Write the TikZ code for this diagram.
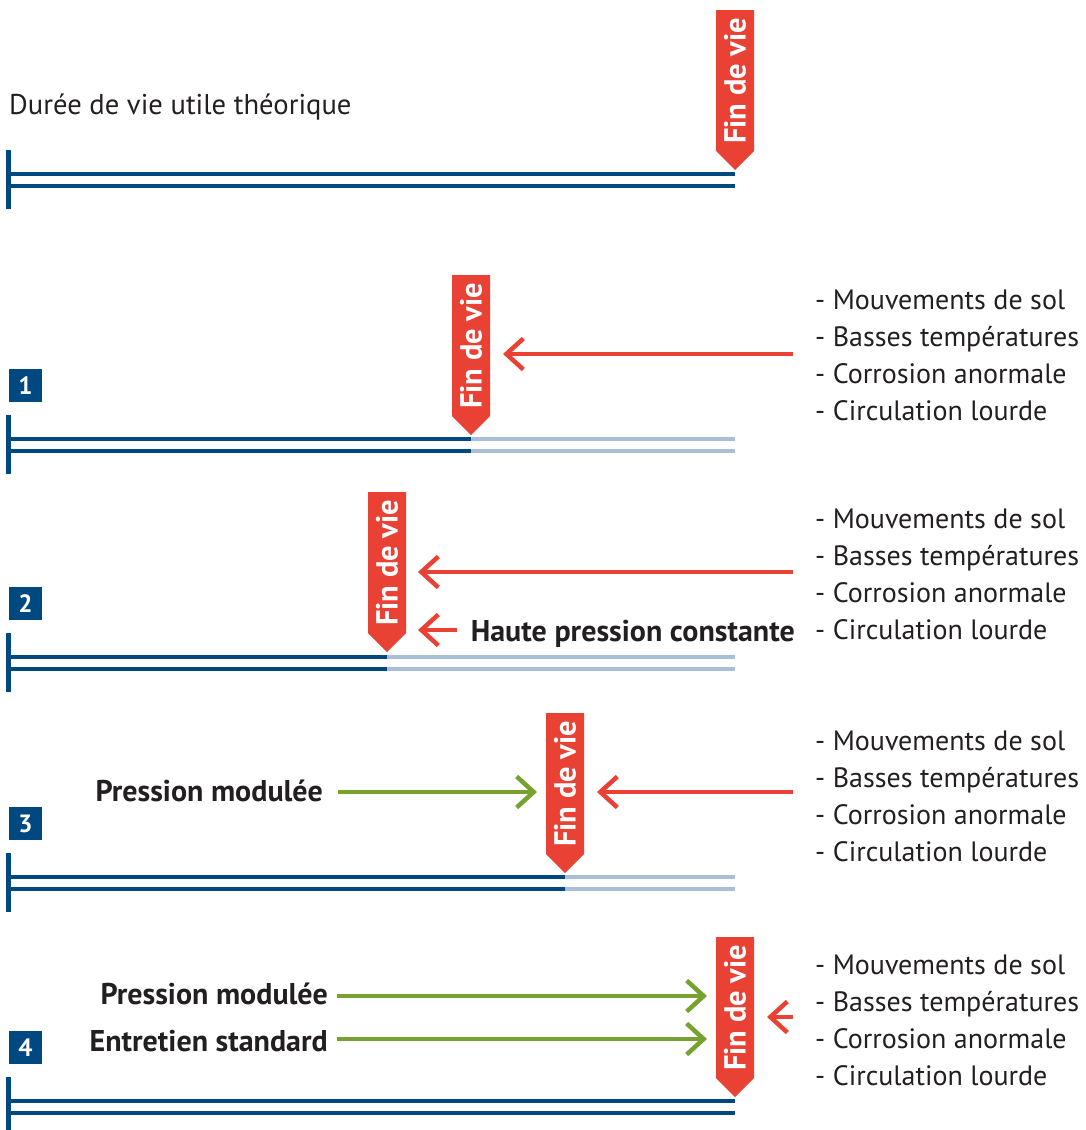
\documentclass[tikz,border=0pt]{standalone}
\usepackage{fontspec}
\setmainfont{PT Sans}
\usetikzlibrary{arrows.meta}
\definecolor{dkblue}{RGB}{0,72,128}
\definecolor{ltblue}{RGB}{170,190,218}
\definecolor{fred}{RGB}{233,65,52}
\definecolor{fgreen}{RGB}{120,162,47}
\definecolor{ftext}{RGB}{35,31,32}
\tikzset{
  txt/.style={font=\fontsize{28.6}{37}\selectfont, text=ftext, inner sep=0pt, anchor=base west},
  ltxt/.style={font=\fontsize{28}{37}\selectfont, text=ftext, inner sep=0pt, anchor=base west},
  btxt/.style={font=\fontsize{30}{37}\selectfont\bfseries, text=ftext, inner sep=0pt, anchor=base east},
  numbox/.style={fill=dkblue, text=white, font=\fontsize{25}{25}\selectfont\bfseries, minimum width=33pt, minimum height=33pt, inner sep=0pt},
  fintxt/.style={text=white, font=\fontsize{30.5}{30}\selectfont\bfseries, inner sep=0pt, rotate=90},
  dkline/.style={draw=dkblue, line width=4pt},
  ltline/.style={draw=ltblue, line width=4pt},
  bar/.style={draw=dkblue, line width=4.5pt},
  redarr/.style={draw=fred, line width=4.5pt, -{Straight Barb[length=17pt,width=31pt]}},
  greenarr/.style={draw=fgreen, line width=4.5pt, -{Straight Barb[length=17pt,width=31pt]}}
}
\newcommand\finmark[3]{%
  \fill[fred] (#2-19,#3) -- (#2+19,#3) -- (#2+19,#3+141) -- (#2,#3+160) -- (#2-19,#3+141) -- cycle;
  \node[fintxt] (#1) at (#2,#3+71) {Fin de vie};
}
\newcommand\timeline[3]{% L, split, end
  \draw[bar] (8.5,#1-24) -- (8.5,#1+35);
  \draw[ltline] (#2,#1) -- (#3,#1);
  \draw[ltline] (#2,#1+11.5) -- (#3,#1+11.5);
  \draw[dkline] (6.5,#1) -- (#2,#1);
  \draw[dkline] (6.5,#1+11.5) -- (#2,#1+11.5);
}
\newcommand\causes[2]{% name, first baseline
  \node[ltxt] (#1a) at (815,#2) {- Mouvements de sol};
  \node[ltxt] (#1b) at (815,#2+37) {- Basses températures};
  \node[ltxt] (#1c) at (815,#2+74) {- Corrosion anormale};
  \node[ltxt] (#1d) at (815,#2+111) {- Circulation lourde};
}
\begin{document}
\begin{tikzpicture}[x=1pt,y=-1pt]
\useasboundingbox (0,0) rectangle (1086,1130);
% Section 0
\node[txt] (title) at (9,114) {Durée de vie utile théorique};
\timeline{174}{735}{735}
\finmark{m0}{735}{10}
% Section 1
\node[numbox] (n1) at (25.5,439-53.5) {1};
\timeline{439}{471}{735}
\finmark{m1}{471}{275}
\causes{c1}{309}
\coordinate (s1) at (793,354);
\coordinate (e1) at (503,354);
\draw[redarr] (s1) -- (e1);
% Section 2
\node[numbox] (n2) at (25.5,657-53.5) {2};
\timeline{657}{387}{735}
\finmark{m2}{387}{492}
\causes{c2}{528}
\coordinate (s2) at (793,572);
\coordinate (e2) at (418,572);
\draw[redarr] (s2) -- (e2);
\node[btxt] (hp) at (795,641) {Haute pression constante};
\coordinate (s2b) at (457,630);
\coordinate (e2b) at (418,630);
\draw[redarr] (s2b) -- (e2b);
% Section 3
\node[numbox] (n3) at (25.5,877-53.5) {3};
\timeline{877}{565}{735}
\finmark{m3}{565}{713}
\causes{c3}{750}
\node[btxt] (pm3) at (323,801) {Pression modulée};
\coordinate (g3s) at (338,792);
\coordinate (g3e) at (537,792);
\draw[greenarr] (g3s) -- (g3e);
\coordinate (s3) at (793,792);
\coordinate (e3) at (597,792);
\draw[redarr] (s3) -- (e3);
% Section 4
\node[numbox] (n4) at (25.5,1101-53.5) {4};
\timeline{1101}{735}{735}
\finmark{m4}{735}{937}
\causes{c4}{974}
\node[btxt] (pm4) at (328,1004) {Pression modulée};
\node[btxt] (es4) at (328,1051) {Entretien standard};
\coordinate (g4s) at (337,996);
\coordinate (g4e) at (707,996);
\draw[greenarr] (g4s) -- (g4e);
\coordinate (g4s2) at (337,1039);
\coordinate (g4e2) at (707,1039);
\draw[greenarr] (g4s2) -- (g4e2);
\coordinate (s4) at (793,1017);
\coordinate (e4) at (767,1017);
\draw[redarr] (s4) -- (e4);
\end{tikzpicture}
\end{document}
